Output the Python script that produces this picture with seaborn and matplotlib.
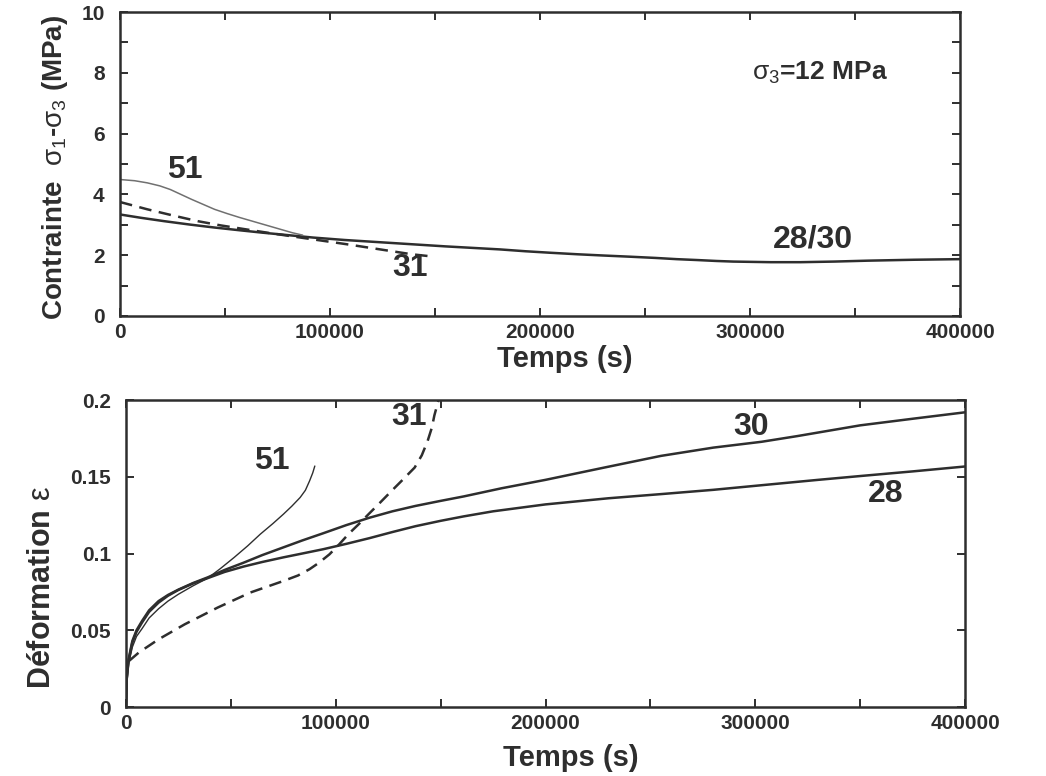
import matplotlib
matplotlib.use("Agg")
import matplotlib.pyplot as plt
import seaborn as sns
from matplotlib.ticker import MultipleLocator, FixedLocator

# --- data ---
# top panel: stress difference (MPa) vs time (s)
top_t_2830 = [0, 10000, 21000, 33000, 45000, 57000, 68000, 80000, 92000, 107000, 123000, 139000,
              155000, 168000, 181000, 193000, 205000, 218000, 230000, 243000, 255000, 265000,
              275000, 284000, 292000, 301000, 310000, 324000, 340000, 356000, 378000, 400000]
top_s_2830 = [3.34, 3.23, 3.12, 3.01, 2.91, 2.82, 2.74, 2.66, 2.58, 2.50, 2.43, 2.36,
              2.29, 2.24, 2.19, 2.13, 2.08, 2.03, 1.99, 1.95, 1.91, 1.87,
              1.84, 1.81, 1.79, 1.78, 1.77, 1.77, 1.79, 1.82, 1.85, 1.87]
top_t_51 = [0, 7000, 13000, 19000, 24000, 29000, 34000, 40000, 45000, 51000, 57000, 64000,
            70000, 76000, 82000, 87000]
top_s_51 = [4.49, 4.45, 4.38, 4.28, 4.16, 4.00, 3.84, 3.66, 3.51, 3.37, 3.24, 3.10,
            2.98, 2.86, 2.74, 2.66]
top_t_31 = [0, 13000, 25000, 37000, 48000, 60000, 73000, 86000, 97000, 108000, 123000, 139000, 147000]
top_s_31 = [3.75, 3.51, 3.31, 3.12, 2.98, 2.85, 2.71, 2.58, 2.47, 2.36, 2.20, 2.03, 1.97]

# bottom panel: strain vs time (s)
bot_t_30 = [0, 300, 1200, 3000, 5000, 7600, 11000, 15500, 20000, 25000, 32000, 39000, 47000,
            56000, 65000, 75000, 84000, 94000, 105000, 116000, 127000, 138000, 150000, 161000,
            179000, 200000, 228000, 255000, 280000, 303000, 320000, 350000, 375000, 400000]
bot_e_30 = [0, 0.018, 0.031, 0.043, 0.050, 0.056, 0.063, 0.069, 0.073, 0.0765, 0.0808, 0.0845, 0.0893,
            0.094, 0.0990, 0.104, 0.1085, 0.1132, 0.1185, 0.1233, 0.1275, 0.131, 0.1343, 0.1372,
            0.1425, 0.148, 0.156, 0.1636, 0.169, 0.1728, 0.1765, 0.1835, 0.1878, 0.192]
bot_t_28 = [0, 300, 1200, 3000, 5000, 7600, 11000, 15500, 20000, 25000, 32000, 39000, 47000,
            56000, 65000, 75000, 84000, 94000, 105000, 116000, 127000, 138000, 150000, 161000,
            175000, 200000, 230000, 255000, 280000, 303000, 330000, 351000, 375000, 400000]
bot_e_28 = [0, 0.018, 0.030, 0.042, 0.049, 0.055, 0.062, 0.068, 0.0725, 0.0763, 0.0805, 0.0840, 0.0880,
            0.0915, 0.0945, 0.0975, 0.1, 0.1028, 0.1063, 0.1100, 0.1140, 0.1178, 0.1213, 0.1242,
            0.1275, 0.132, 0.136, 0.1387, 0.1415, 0.1445, 0.148, 0.1506, 0.1535, 0.1567]
bot_t_51 = [0, 300, 1200, 3000, 5000, 7600, 11000, 15500, 20000, 25000, 32000, 39000, 45000,
            51500, 58000, 64000, 70000, 75000, 79000, 83000, 85500, 87500, 89000, 90000]
bot_e_51 = [0, 0.015, 0.028, 0.039, 0.046, 0.051, 0.058, 0.064, 0.069, 0.0735, 0.0790, 0.0840, 0.0902,
            0.0974, 0.1050, 0.1126, 0.1195, 0.1256, 0.1308, 0.1365, 0.1412, 0.1473, 0.1525, 0.157]
bot_t_31 = [1400, 6100, 15500, 28000, 43700, 59300, 75000, 82000, 87500, 92000, 97000, 101500,
            106000, 111000, 115600, 121000, 126600, 132000, 137600, 141000, 143800, 145800,
            147000, 148200, 149000]
bot_e_31 = [0.030, 0.0355, 0.0441, 0.0539, 0.0648, 0.0746, 0.0821, 0.0857, 0.0898, 0.0940, 0.0995,
            0.1058, 0.1126, 0.1192, 0.1256, 0.1330, 0.1408, 0.1482, 0.156, 0.1640, 0.1734, 0.1820,
            0.1900, 0.1960, 0.2]

x_ticks = [0, 100000, 200000, 300000, 400000]
x_tick_labels = ["0", "100000", "200000", "300000", "400000"]
top_y_ticks = [0, 2, 4, 6, 8, 10]
bot_y_ticks = [0, 0.05, 0.1, 0.15, 0.2]
bot_y_tick_labels = ["0", "0.05", "0.1", "0.15", "0.2"]

sns.set_theme(style="ticks")
ink = "#2e2e2e"
plt.rcParams["font.family"] = ["Liberation Sans", "DejaVu Sans"]
plt.rcParams["font.weight"] = "bold"
plt.rcParams["mathtext.fontset"] = "custom"
plt.rcParams["mathtext.rm"] = "Liberation Sans:weight=normal"
plt.rcParams["mathtext.default"] = "rm"
plt.rcParams["text.color"] = ink
plt.rcParams["axes.labelcolor"] = ink

fig = plt.figure(figsize=(10.46, 7.76), dpi=100)
ax1 = fig.add_axes([0.1147, 0.5928, 0.8031, 0.3917])
ax2 = fig.add_axes([0.1205, 0.0889, 0.8021, 0.3956])

lw = 1.8
sns.lineplot(x=top_t_2830, y=top_s_2830, ax=ax1, color=ink, lw=lw, estimator=None)
sns.lineplot(x=top_t_51, y=top_s_51, ax=ax1, color="#707070", lw=1.1, estimator=None)
sns.lineplot(x=top_t_31, y=top_s_31, ax=ax1, color=ink, lw=lw, estimator=None,
             linestyle=(0, (5, 3)))

sns.lineplot(x=bot_t_30, y=bot_e_30, ax=ax2, color=ink, lw=lw, estimator=None)
sns.lineplot(x=bot_t_28, y=bot_e_28, ax=ax2, color=ink, lw=lw, estimator=None)
sns.lineplot(x=bot_t_51, y=bot_e_51, ax=ax2, color=ink, lw=1.0, estimator=None)
sns.lineplot(x=bot_t_31, y=bot_e_31, ax=ax2, color=ink, lw=lw, estimator=None,
             linestyle=(0, (5, 3)))

for ax in (ax1, ax2):
    ax.set_xlim(0, 400000)
    ax.xaxis.set_major_locator(FixedLocator(x_ticks))
    ax.set_xticklabels(x_tick_labels)
    ax.xaxis.set_minor_locator(MultipleLocator(50000))
    for s in ax.spines.values():
        s.set_visible(True)
        s.set_linewidth(1.8)
        s.set_color(ink)
    ax.tick_params(which="both", direction="in", top=True, right=True,
                   color=ink, width=1.4, length=6, labelsize=15, labelcolor=ink)
    ax.tick_params(axis="x", pad=5)
    ax.tick_params(axis="y", pad=11)

ax1.set_ylim(0, 10)
ax1.yaxis.set_major_locator(FixedLocator(top_y_ticks))
ax1.yaxis.set_minor_locator(MultipleLocator(1))
ax1.set_yticklabels([str(v) for v in top_y_ticks])

ax2.set_ylim(0, 0.2)
ax2.yaxis.set_major_locator(FixedLocator(bot_y_ticks))
ax2.set_yticklabels(bot_y_tick_labels)

for ax in (ax1, ax2):
    for lab in ax.get_xticklabels() + ax.get_yticklabels():
        lab.set_fontweight("bold")

ax1.set_xlabel("Temps (s)", fontsize=21, fontweight="bold")
ax1.xaxis.set_label_coords(0.53, -0.095)
ax1.set_ylabel(r"Contrainte  $σ_1$-$σ_3$ (MPa)", fontsize=20, fontweight="bold")
ax1.yaxis.set_label_coords(-0.06, 0.49)

ax2.set_xlabel("Temps (s)", fontsize=21, fontweight="bold")
ax2.xaxis.set_label_coords(0.53, -0.12)
ax2.set_ylabel(r"Déformation $ε$", fontsize=22, fontweight="bold")
ax2.yaxis.set_label_coords(-0.082, 0.39)

lab_kw = dict(fontsize=23, fontweight="bold", color=ink, ha="center", va="center")
ax1.text(31000, 4.8, "51", **lab_kw)
ax1.text(138000, 1.58, "31", **lab_kw)
ax1.text(330000, 2.5, "28/30", **lab_kw)
ax1.text(301000, 8.0, r"$σ_3$=12 MPa", fontsize=19, fontweight="bold", color=ink,
         ha="left", va="center")

ax2.text(69500, 0.1605, "51", **lab_kw)
ax2.text(134700, 0.189, "31", **lab_kw)
ax2.text(298000, 0.1827, "30", **lab_kw)
ax2.text(362000, 0.139, "28", **lab_kw)

fig.savefig("out.png", dpi=100, facecolor="white")
